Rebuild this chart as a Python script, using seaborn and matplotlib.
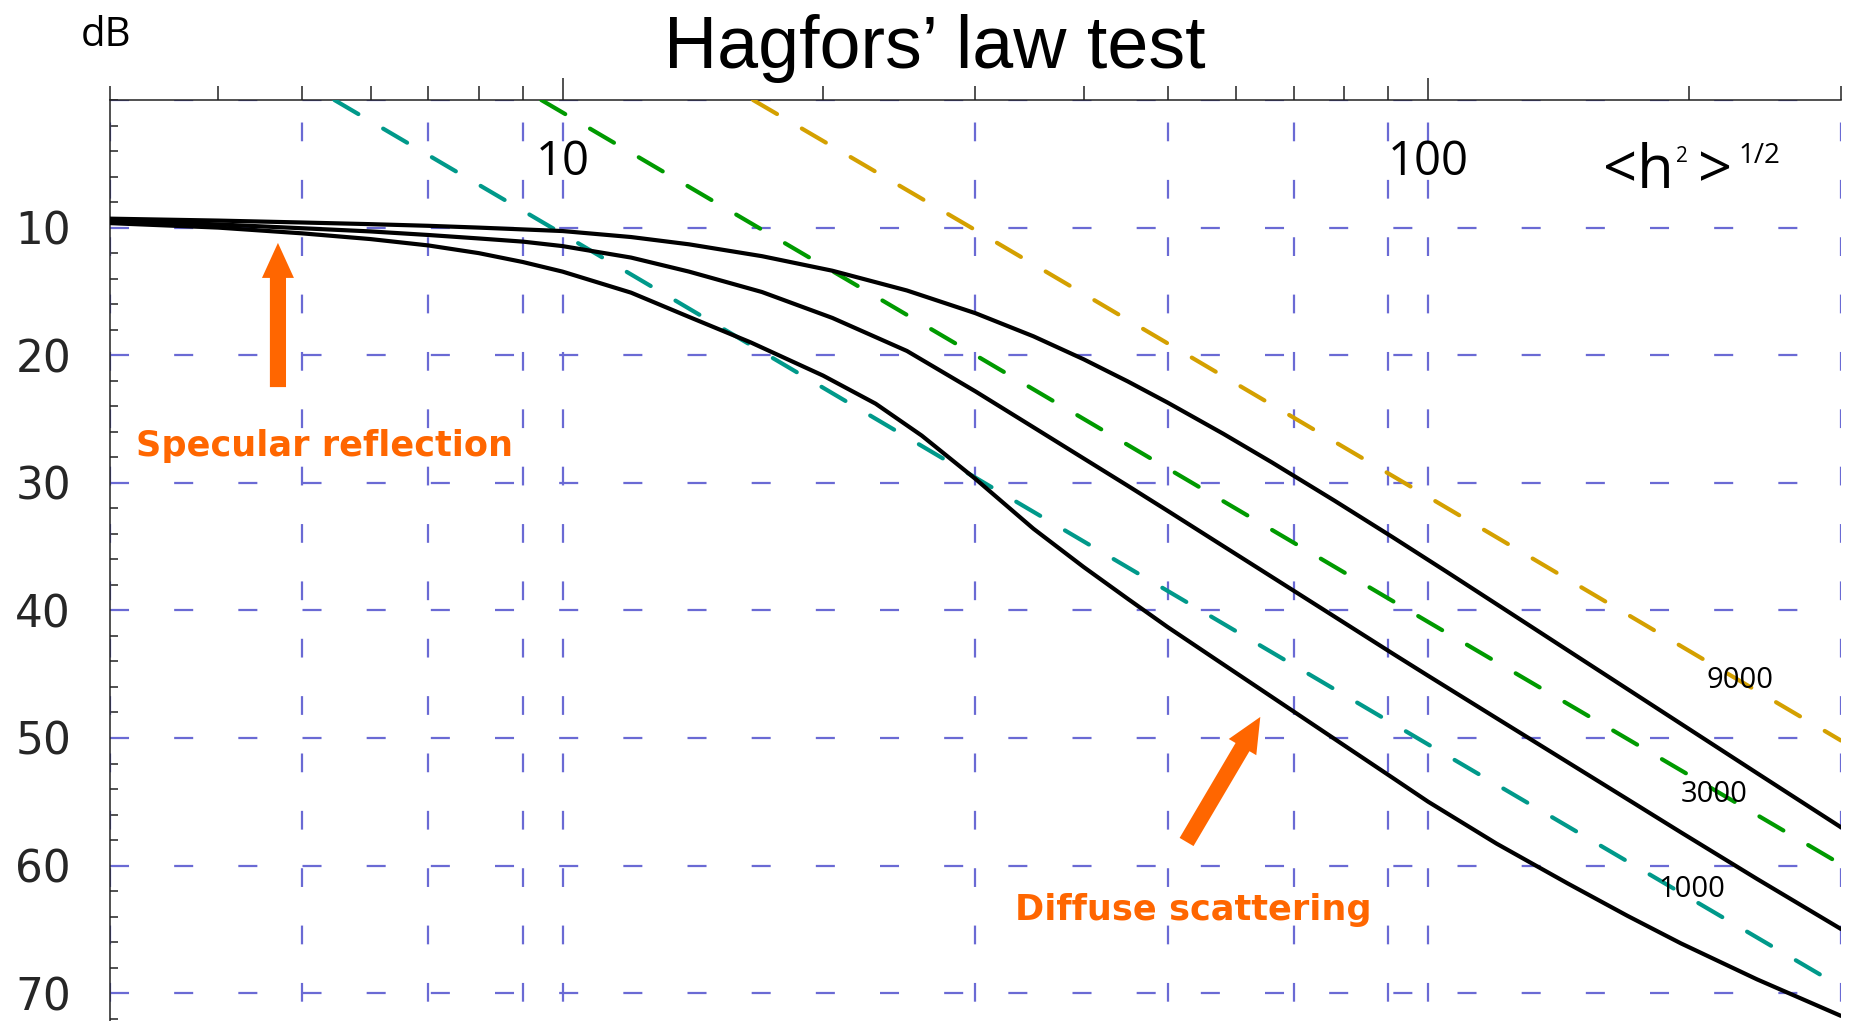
import matplotlib
matplotlib.use("Agg")
import matplotlib.pyplot as plt
import seaborn as sns
import pandas as pd
from matplotlib.ticker import FixedLocator, NullFormatter

# ---------------- data ----------------
upper_x = [3, 4, 5, 6, 7, 8, 10, 12, 14, 17, 20.5, 25, 30, 35, 40, 45, 50, 58, 66, 78, 91, 105, 125, 145, 170, 196, 240, 300]
upper_db = [9.3, 9.45, 9.6, 9.73, 9.86, 10.0, 10.27, 10.74, 11.31, 12.24, 13.38, 14.93, 16.71, 18.52, 20.32, 22.06, 23.71, 26.16, 28.4, 31.41, 34.26, 36.96, 40.29, 43.13, 46.17, 48.89, 52.76, 57.0]

middle_x = [3, 4, 5, 6, 7, 8, 9, 10, 12, 14, 17, 20.5, 25, 30, 35, 40, 45, 50, 57, 64, 72, 80, 91, 100, 120, 145, 170, 196, 240, 300]
middle_db = [9.45, 9.75, 10.05, 10.3, 10.58, 10.85, 11.1, 11.45, 12.35, 13.45, 15.05, 17.08, 19.67, 22.84, 25.65, 28.09, 30.24, 32.19, 34.64, 36.8, 39.0, 40.97, 43.38, 45.12, 48.45, 51.9, 54.8, 57.4, 61.05, 64.97]

lower_x = [3, 4, 5, 6, 7, 8, 9, 10, 12, 14, 16.5, 20, 23, 26, 30, 35, 40, 45, 50, 57, 65, 80, 91, 100, 120, 145, 170, 196, 240, 300]
lower_db = [9.65, 10.0, 10.45, 10.9, 11.4, 12.0, 12.7, 13.45, 15.1, 17.0, 19.0, 21.6, 23.8, 26.3, 29.7, 33.6, 36.6, 39.1, 41.3, 43.89, 46.48, 50.58, 53.12, 54.99, 58.28, 61.4, 63.94, 66.1, 68.92, 71.78]

teal_x = [5.45, 10, 30, 100, 300]
teal_db = [0.0, 10.5, 29.6, 50.5, 69.5]
green_x = [9.45, 30, 100, 300]
green_db = [0.0, 20.0, 40.9, 59.9]
gold_x = [16.6, 30, 100, 300]
gold_db = [0.0, 10.2, 31.1, 50.2]

curve_labels = ["9000", "3000", "1000"]
curve_label_x = [210.0, 196.0, 184.4]
curve_label_db = [46.1, 55.0, 62.5]

y_major = [10, 20, 30, 40, 50, 60, 70]
y_minor = list(range(0, 73, 2))
y_labels = ["10", "20", "30", "40", "50", "60", "70"]
x_major = [10, 100]
x_major_labels = ["10", "100"]
x_minor = [3, 4, 5, 6, 7, 8, 9, 20, 30, 40, 50, 60, 70, 80, 90, 200, 300]
grid_x = [3, 5, 7, 9, 10, 30, 50, 70, 90, 100, 300]
grid_y = [0, 10, 20, 30, 40, 50, 60, 70]

# ---------------- figure ----------------
W, H = 1853, 1021
sns.set_theme(style="white")
plt.rcParams["font.family"] = ["DejaVu Sans"]
plt.rcParams["lines.scale_dashes"] = False

fig = plt.figure(figsize=(W / 100, H / 100), dpi=100)
ax = fig.add_axes([110 / W, 0.0, (1841 - 110) / W, (H - 100) / H])
ax.set_xscale("log")
ax.set_xlim(3, 300)
ax.set_ylim(72.18, 0)

GRID = "#6a6ad4"
for gx in grid_x:
    ax.axvline(gx, color=GRID, lw=1.6, linestyle=(27.4, (13.5, 27.8)), zorder=1)
for gy in grid_y:
    ax.axhline(gy, color=GRID, lw=1.6, linestyle=(0, (13.7, 32.5)), zorder=1)

dash_style = (0, (20, 20.7))
for xs, ys, col in [(teal_x, teal_db, "#00998a"), (green_x, green_db, "#009a00"), (gold_x, gold_db, "#d4a000")]:
    df = pd.DataFrame({"x": xs, "y": ys})
    sns.lineplot(data=df, x="x", y="y", ax=ax, color=col, lw=3.0, linestyle=dash_style,
                 dash_capstyle="round", estimator=None, sort=False, zorder=3)

for xs, ys in [(upper_x, upper_db), (middle_x, middle_db), (lower_x, lower_db)]:
    df = pd.DataFrame({"x": xs, "y": ys})
    sns.lineplot(data=df, x="x", y="y", ax=ax, color="black", lw=3.0, estimator=None,
                 sort=False, zorder=4, solid_joinstyle="round")

ax.set_xlabel("")
ax.set_ylabel("")

# spines
for s in ["right", "bottom"]:
    ax.spines[s].set_visible(False)
for s in ["top", "left"]:
    ax.spines[s].set_visible(True)
    ax.spines[s].set_color("#222222")
    ax.spines[s].set_linewidth(1.1)

# x ticks on top, labels drawn inside
ax.xaxis.set_major_locator(FixedLocator(x_major))
ax.xaxis.set_minor_locator(FixedLocator(x_minor))
ax.xaxis.set_major_formatter(NullFormatter())
ax.xaxis.set_minor_formatter(NullFormatter())
ax.tick_params(axis="x", which="major", direction="out", length=16, width=1.1, color="#222222",
               top=True, bottom=False, labeltop=False, labelbottom=False)
ax.tick_params(axis="x", which="minor", direction="out", length=10, width=1.1, color="#222222",
               top=True, bottom=False, labeltop=False, labelbottom=False)
for xv, lab in zip(x_major, x_major_labels):
    ax.text(xv, 5.88, lab, ha="center", va="baseline", fontsize=34, family="Open Sans", color="black")

# y ticks
ax.yaxis.set_major_locator(FixedLocator(y_major))
ax.yaxis.set_minor_locator(FixedLocator(y_minor))
ax.set_yticklabels(y_labels)
ax.tick_params(axis="y", which="major", direction="in", length=8.6, width=1.1, color="#222222",
               left=True, right=False, labelsize=31.5, pad=28)
ax.tick_params(axis="y", which="minor", direction="in", length=5.4, width=1.1, color="#222222",
               left=True, right=False)
for t in ax.get_yticklabels():
    t.set_family("DejaVu Sans")
ax.grid(False)

# curve labels
for lab, lx, ly in zip(curve_labels, curve_label_x, curve_label_db):
    ax.text(lx, ly, lab, ha="left", va="baseline", fontsize=21, family="Open Sans", color="black", zorder=5)

# figure texts
def ftext(x, y, s, **kw):
    fig.text(x / W, 1 - y / H, s, va="baseline", **kw)

ftext(935, 68, "Hagfors\u2019 law test", ha="center", fontsize=53, family="Liberation Sans", color="black")
ftext(106, 46, "dB", ha="center", fontsize=29, family="Open Sans", color="black")
ftext(1603, 188, "<h", ha="left", fontsize=43, family="Open Sans", color="black")
ftext(1676, 162, "2", ha="left", fontsize=15, family="Open Sans", color="black")
ftext(1698, 188, ">", ha="left", fontsize=43, family="Open Sans", color="black")
ftext(1738, 163, "1/2", ha="left", fontsize=20, family="Open Sans", color="black")

# annotations
ORANGE = "#ff6600"
ax.text(3.216, 27.9, "Specular reflection", ha="left", va="baseline", fontsize=25.3,
        family="DejaVu Sans", fontweight="bold", color=ORANGE)
ax.text(33.3, 64.3, "Diffuse scattering", ha="left", va="baseline", fontsize=25.3,
        family="DejaVu Sans", fontweight="bold", color=ORANGE)
arrow_style = "simple,head_length=1.26,head_width=1.15,tail_width=0.58"
ax.annotate("", xy=(4.69, 11.2), xytext=(4.69, 22.5),
            arrowprops=dict(arrowstyle=arrow_style, mutation_scale=20, color=ORANGE,
                            shrinkA=0, shrinkB=0, lw=0))
ax.annotate("", xy=(64.0, 48.35), xytext=(52.6, 58.15),
            arrowprops=dict(arrowstyle=arrow_style, mutation_scale=20, color=ORANGE,
                            shrinkA=0, shrinkB=0, lw=0))

fig.savefig("out.png", dpi=100)
